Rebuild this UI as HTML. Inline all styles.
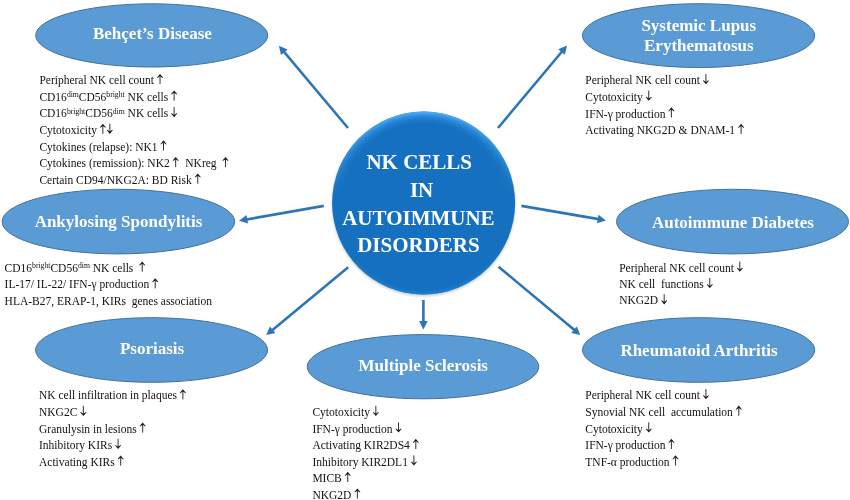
<!DOCTYPE html>
<html><head><meta charset="utf-8">
<style>
html,body{margin:0;padding:0;background:#fff;}
body{width:850px;height:500px;overflow:hidden;position:relative;}
svg{position:absolute;left:0;top:0;will-change:transform;}
.t{font-family:"Liberation Serif",serif;font-size:11.5px;fill:#111;white-space:pre;}
.s{font-size:7.7px;}
.h{font-family:"Liberation Serif",serif;font-size:17px;font-weight:bold;fill:#fff;text-anchor:middle;white-space:pre;}
.c{font-family:"Liberation Serif",serif;font-size:21px;font-weight:bold;fill:#fff;text-anchor:middle;}
.e{fill:#5B9BD5;stroke:#41719C;stroke-width:1;}
.a{stroke:#2E75B6;stroke-width:2.6;fill:none;}
.ah{fill:#2E75B6;}
</style></head><body>
<svg width="850" height="500" viewBox="0 0 850 500" xml:space="preserve">
<defs>
<filter id="blur" x="-20%" y="-20%" width="140%" height="140%"><feGaussianBlur stdDeviation="1.6"/></filter>
<radialGradient id="rim" cx="0.5" cy="0.5" r="0.5">
<stop offset="0.86" stop-color="#1A7AD0" stop-opacity="0"/>
<stop offset="0.95" stop-color="#3596E6" stop-opacity="0.75"/>
<stop offset="1" stop-color="#56B4FA" stop-opacity="1"/>
</radialGradient>
<radialGradient id="rim2" cx="0.5" cy="0.5" r="0.5">
<stop offset="0.95" stop-color="#1A7FD0" stop-opacity="0"/>
<stop offset="1" stop-color="#1F86DA" stop-opacity="1"/>
</radialGradient>
<linearGradient id="tg" x1="0" y1="0" x2="0" y2="1">
<stop offset="0" stop-color="#fff" stop-opacity="1"/>
<stop offset="0.45" stop-color="#fff" stop-opacity="0"/>
</linearGradient>
<linearGradient id="bg" x1="0" y1="0" x2="0" y2="1">
<stop offset="0.7" stop-color="#fff" stop-opacity="0"/>
<stop offset="1" stop-color="#fff" stop-opacity="1"/>
</linearGradient>
<mask id="topmask" maskUnits="userSpaceOnUse" x="330" y="110" width="190" height="190"><rect x="330" y="110" width="190" height="190" fill="url(#tg)"/></mask>
<mask id="botmask" maskUnits="userSpaceOnUse" x="330" y="110" width="190" height="190"><rect x="330" y="110" width="190" height="190" fill="url(#bg)"/></mask>
<g id="up"><path d="M0,0 V-8.2" stroke="#1a1a1a" stroke-width="0.9" fill="none"/><path d="M0,-10.2 L-3,-6.6 L-2.6,-6.1 L0,-7.9 L2.6,-6.1 L3,-6.6 Z" fill="#1a1a1a"/></g>
<g id="dn"><path d="M0,-10.2 V-2" stroke="#1a1a1a" stroke-width="0.9" fill="none"/><path d="M0,0 L-3,-3.6 L-2.6,-4.1 L0,-2.3 L2.6,-4.1 L3,-3.6 Z" fill="#1a1a1a"/></g>
</defs>
<line class="a" x1="348.00" y1="128.00" x2="283.66" y2="51.46"/><polygon class="ah" points="278.90,45.80 287.60,49.46 281.01,55.00"/>
<line class="a" x1="498.00" y1="128.00" x2="562.25" y2="51.27"/><polygon class="ah" points="567.00,45.60 564.90,54.80 558.31,49.28"/>
<line class="a" x1="323.80" y1="205.90" x2="246.29" y2="219.52"/><polygon class="ah" points="239.00,220.80 246.53,215.11 248.02,223.58"/>
<line class="a" x1="521.40" y1="205.90" x2="598.71" y2="219.15"/><polygon class="ah" points="606.00,220.40 596.99,223.22 598.45,214.74"/>
<line class="a" x1="348.20" y1="267.20" x2="271.90" y2="330.38"/><polygon class="ah" points="266.20,335.10 269.93,326.43 275.41,333.05"/>
<line class="a" x1="498.50" y1="266.70" x2="574.72" y2="330.36"/><polygon class="ah" points="580.40,335.10 571.20,333.02 576.71,326.42"/>
<line class="a" x1="423.40" y1="300.00" x2="423.40" y2="322.00"/><polygon class="ah" points="423.40,329.40 419.10,321.00 427.70,321.00"/>
<circle cx="423.6" cy="204.5" r="91.5" fill="#000" opacity="0.22" filter="url(#blur)"/>
<circle cx="423.6" cy="203" r="91.5" fill="#1571BF"/>
<circle cx="423.6" cy="203" r="91.5" fill="url(#rim)" mask="url(#topmask)"/>
<circle cx="423.6" cy="203" r="91.5" fill="url(#rim2)" mask="url(#botmask)"/>
<text class="c" x="419.2" y="169">NK CELLS</text>
<text class="c" x="421.6" y="197">IN</text>
<text class="c" x="418.4" y="225">AUTOIMMUNE</text>
<text class="c" x="418.4" y="252">DISORDERS</text>
<ellipse class="e" cx="151.7" cy="35.4" rx="116.0" ry="31.6"/>
<text class="h" x="152.4" y="38.8">Behçet’s Disease</text>
<ellipse class="e" cx="118.4" cy="221.6" rx="116.3" ry="32.3"/>
<text class="h" x="118.5" y="227.0">Ankylosing Spondylitis</text>
<ellipse class="e" cx="151.6" cy="350.0" rx="116.0" ry="32.3"/>
<text class="h" x="152.0" y="353.7">Psoriasis</text>
<ellipse class="e" cx="698.6" cy="35.6" rx="116.1" ry="31.9"/>
<text class="h" x="698.8" y="30.7">Systemic Lupus</text>
<text class="h" x="698.8" y="51.0">Erythematosus</text>
<ellipse class="e" cx="732.5" cy="221.6" rx="116.0" ry="32.3"/>
<text class="h" x="732.9" y="227.5">Autoimmune Diabetes</text>
<ellipse class="e" cx="698.6" cy="350.0" rx="116.1" ry="32.3"/>
<text class="h" x="699.0" y="355.8">Rheumatoid Arthritis</text>
<ellipse class="e" cx="423.0" cy="366.7" rx="115.8" ry="32.1"/>
<text class="h" x="423.2" y="370.6">Multiple Sclerosis</text>
<text x="39.40" y="84.10" class="t">Peripheral NK cell count </text>
<use href="#up" x="160.02" y="84.10"/>
<text x="39.40" y="100.70" class="t">CD16</text>
<text x="66.88" y="97.10" class="t s">dim</text>
<text x="78.85" y="100.70" class="t">CD56</text>
<text x="106.34" y="97.10" class="t s">bright</text>
<text x="124.71" y="100.70" class="t"> NK cells </text>
<use href="#up" x="174.12" y="100.70"/>
<text x="39.40" y="117.20" class="t">CD16</text>
<text x="66.88" y="113.60" class="t s">bright</text>
<text x="85.26" y="117.20" class="t">CD56</text>
<text x="112.74" y="113.60" class="t s">dim</text>
<text x="124.71" y="117.20" class="t"> NK cells </text>
<use href="#dn" x="174.12" y="117.20"/>
<text x="39.40" y="133.90" class="t">Cytotoxicity </text>
<use href="#up" x="102.84" y="133.90"/>
<use href="#dn" x="109.84" y="133.90"/>
<text x="39.40" y="150.50" class="t">Cytokines (relapse): NK1 </text>
<use href="#up" x="163.53" y="150.50"/>
<text x="39.40" y="167.10" class="t">Cytokines (remission): NK2 </text>
<use href="#up" x="175.66" y="167.10"/>
<text x="179.56" y="167.10" class="t">  NKreg  </text>
<use href="#up" x="225.47" y="167.10"/>
<text x="39.40" y="183.70" class="t">Certain CD94/NKG2A: BD Risk </text>
<use href="#up" x="197.77" y="183.70"/>
<text x="4.60" y="271.70" class="t">CD16</text>
<text x="32.08" y="268.10" class="t s">bright</text>
<text x="50.46" y="271.70" class="t">CD56</text>
<text x="77.94" y="268.10" class="t s">dim</text>
<text x="89.91" y="271.70" class="t"> NK cells  </text>
<use href="#up" x="142.20" y="271.70"/>
<text x="4.60" y="288.40" class="t">IL-17/ IL-22/ IFN-γ production </text>
<use href="#up" x="155.20" y="288.40"/>
<text x="4.60" y="304.60" class="t">HLA-B27, ERAP-1, KIRs  genes association</text>
<text x="39.00" y="399.40" class="t">NK cell infiltration in plaques </text>
<use href="#up" x="182.90" y="399.40"/>
<text x="39.00" y="416.00" class="t">NKG2C </text>
<use href="#dn" x="83.33" y="416.00"/>
<text x="39.00" y="432.60" class="t">Granulysin in lesions </text>
<use href="#up" x="142.68" y="432.60"/>
<text x="39.00" y="449.00" class="t">Inhibitory KIRs </text>
<use href="#dn" x="118.10" y="449.00"/>
<text x="39.00" y="465.60" class="t">Activating KIRs </text>
<use href="#up" x="120.66" y="465.60"/>
<text x="585.30" y="84.30" class="t">Peripheral NK cell count </text>
<use href="#dn" x="705.92" y="84.30"/>
<text x="585.30" y="100.80" class="t">Cytotoxicity </text>
<use href="#dn" x="648.74" y="100.80"/>
<text x="585.30" y="117.50" class="t">IFN-γ production </text>
<use href="#up" x="671.40" y="117.50"/>
<text x="585.30" y="134.00" class="t">Activating NKG2D &amp; DNAM-1 </text>
<use href="#up" x="741.10" y="134.00"/>
<text x="619.20" y="271.80" class="t">Peripheral NK cell count </text>
<use href="#dn" x="739.82" y="271.80"/>
<text x="619.20" y="288.20" class="t">NK cell  functions </text>
<use href="#dn" x="709.80" y="288.20"/>
<text x="619.20" y="304.40" class="t">NKG2D </text>
<use href="#dn" x="664.18" y="304.40"/>
<text x="585.30" y="399.30" class="t">Peripheral NK cell count </text>
<use href="#dn" x="705.92" y="399.30"/>
<text x="585.30" y="415.80" class="t">Synovial NK cell  accumulation </text>
<use href="#up" x="738.81" y="415.80"/>
<text x="585.30" y="432.50" class="t">Cytotoxicity </text>
<use href="#dn" x="648.74" y="432.50"/>
<text x="585.30" y="449.00" class="t">IFN-γ production </text>
<use href="#up" x="671.40" y="449.00"/>
<text x="585.30" y="465.50" class="t">TNF-α production </text>
<use href="#up" x="675.56" y="465.50"/>
<text x="312.40" y="416.00" class="t">Cytotoxicity </text>
<use href="#dn" x="375.84" y="416.00"/>
<text x="312.40" y="432.60" class="t">IFN-γ production </text>
<use href="#dn" x="398.50" y="432.60"/>
<text x="312.40" y="449.00" class="t">Activating KIR2DS4 </text>
<use href="#up" x="415.80" y="449.00"/>
<text x="312.40" y="465.60" class="t">Inhibitory KIR2DL1 </text>
<use href="#dn" x="413.88" y="465.60"/>
<text x="312.40" y="482.00" class="t">MICB </text>
<use href="#up" x="347.77" y="482.00"/>
<text x="312.40" y="498.60" class="t">NKG2D </text>
<use href="#up" x="357.38" y="498.60"/>
</svg>
</body></html>
